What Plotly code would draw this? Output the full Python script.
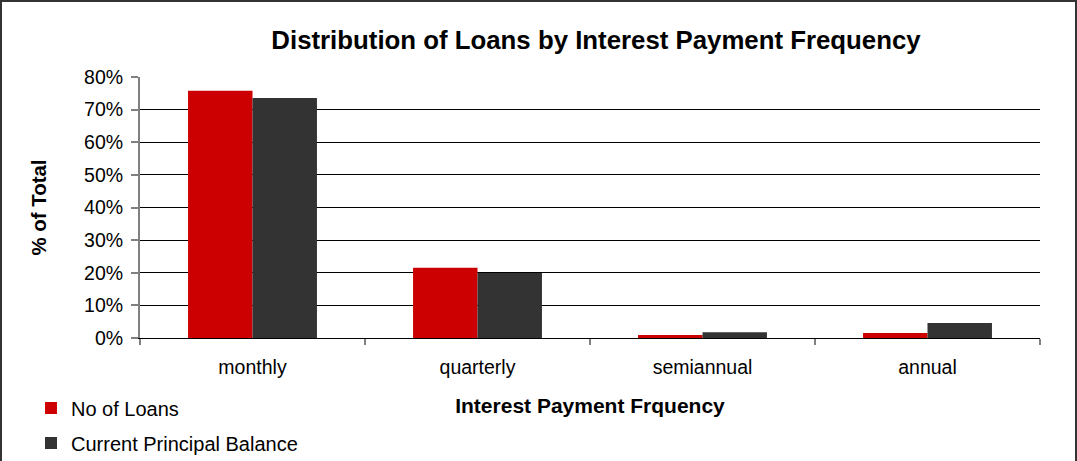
import plotly.graph_objects as go

# Share of loans by interest payment frequency
categories = ["monthly", "quarterly", "semiannual", "annual"]
no_of_loans = [0.758, 0.215, 0.009, 0.015]
current_principal_balance = [0.736, 0.199, 0.018, 0.046]
y_ticks = [0, 0.1, 0.2, 0.3, 0.4, 0.5, 0.6, 0.7, 0.8]

FONT = "Liberation Sans, Arial, sans-serif"
W, H = 1077, 461
L, R, T, B = 140, 37, 77, 123
PW, PH = W - L - R, H - T - B


def px_x(p):
    return (p - L) / PW


def px_y(p):
    return (H - B - p) / PH


fig = go.Figure()
fig.add_trace(go.Bar(
    x=categories, y=no_of_loans, name="No of Loans",
    marker=dict(color="#cc0000", line=dict(width=0)),
    legend="legend", showlegend=True,
))
fig.add_trace(go.Bar(
    x=categories, y=current_principal_balance, name="Current Principal Balance",
    marker=dict(color="#333333", line=dict(width=0)),
    legend="legend2", showlegend=True,
))

legend_common = dict(
    font=dict(family=FONT, size=20, color="#000000"),
    bgcolor="rgba(0,0,0,0)", borderwidth=0,
    xanchor="left", yanchor="middle",
    itemwidth=30, tracegroupgap=0,
)

fig.update_layout(
    width=W, height=H,
    margin=dict(l=L, r=R, t=T, b=B, autoexpand=False),
    paper_bgcolor="white", plot_bgcolor="white",
    showlegend=True,
    barmode="group", bargap=0.427, bargroupgap=0,
    font=dict(family=FONT, size=20, color="#000000"),
    title=dict(
        text="<b>Distribution of Loans by Interest Payment Frequency</b>",
        font=dict(family=FONT, size=25.8, color="#000000"),
        x=px_x(596), xref="paper", xanchor="center",
        y=1 - 40 / H, yref="container", yanchor="middle",
    ),
    xaxis=dict(
        showline=True, linecolor="#000000", linewidth=1,
        ticks="outside", tickson="boundaries", ticklen=6,
        tickcolor="#808080", tickwidth=2,
        tickfont=dict(family=FONT, size=19.5),
        ticklabelstandoff=12,
        showgrid=False,
        title=dict(text="<b>Interest Payment Frquency</b>",
                   font=dict(family=FONT, size=21), standoff=20),
        automargin=False,
    ),
    yaxis=dict(
        range=[0, 0.8], tickvals=y_ticks, tickformat=".0%",
        showline=True, linecolor="#808080", linewidth=2,
        ticks="outside", ticklen=7, tickcolor="#808080", tickwidth=2,
        tickfont=dict(family=FONT, size=19.5),
        ticklabelstandoff=4,
        showgrid=True, gridcolor="#000000", gridwidth=1,
        zeroline=False,
        title=dict(text="<b>% of Total</b>",
                   font=dict(family=FONT, size=20.4), standoff=32),
        automargin=False,
    ),
    legend=dict(x=px_x(31), y=px_y(408), **legend_common),
    legend2=dict(x=px_x(31), y=px_y(443), **legend_common),
    shapes=[dict(
        type="rect", xref="paper", yref="paper",
        x0=px_x(1), x1=px_x(1076), y0=px_y(1), y1=px_y(480),
        line=dict(color="#333333", width=2), fillcolor="rgba(0,0,0,0)",
        layer="above",
    )],
)

fig.write_html("out.html")
